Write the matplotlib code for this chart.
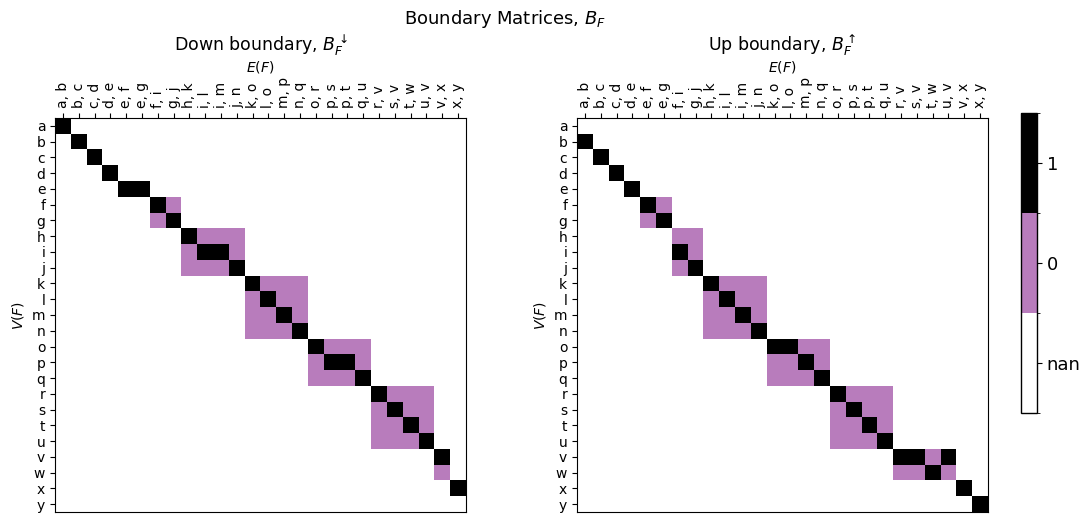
import numpy as np
import matplotlib
matplotlib.use("Agg")
import matplotlib.pyplot as plt
from matplotlib.colors import ListedColormap, BoundaryNorm

# vertices (rows) and edges (columns)
vertices = list("abcdefghijklmnopqrstuvwxy")
edges = ["a, b", "b, c", "c, d", "d, e", "e, f", "e, g", "f, i", "g, j",
         "h, k", "i, l", "i, m", "j, n", "k, o", "l, o", "m, p", "n, q",
         "o, r", "p, s", "p, t", "q, u", "r, v", "s, v", "t, w", "u, v",
         "v, x", "x, y"]

# each row: (first column, run of values); everything else is nan
down_rows = [(0, "1"), (1, "1"), (2, "1"), (3, "1"), (4, "11"), (6, "10"),
             (6, "01"), (8, "1000"), (8, "0110"), (8, "0001"), (12, "1000"),
             (12, "0100"), (12, "0010"), (12, "0001"), (16, "1000"),
             (16, "0110"), (16, "0001"), (20, "1000"), (20, "0100"),
             (20, "0010"), (20, "0001"), (24, "1"), (24, "0"), (25, "1"),
             (0, "")]
up_rows = [(0, ""), (0, "1"), (1, "1"), (2, "1"), (3, "1"), (4, "10"),
           (4, "01"), (6, "00"), (6, "10"), (6, "01"), (8, "1000"),
           (8, "0100"), (8, "0010"), (8, "0001"), (12, "1100"), (12, "0010"),
           (12, "0001"), (16, "1000"), (16, "0100"), (16, "0010"),
           (16, "0001"), (20, "1101"), (20, "0010"), (24, "1"), (25, "1")]

cbar_labels = ["nan", "0", "1"]


def build(rows):
    m = np.full((len(vertices), len(edges)), -1.0)  # -1 stands in for nan
    for i, (start, run) in enumerate(rows):
        for j, ch in enumerate(run):
            m[i, start + j] = float(ch)
    return m


cmap = ListedColormap(["white", "#b87cbc", "black"])
norm = BoundaryNorm([-1.5, -0.5, 0.5, 1.5], cmap.N)

fig = plt.figure(figsize=(10.85, 5.14), dpi=100)
W, H = 1085, 514
ax_l = fig.add_axes([55 / W, 2 / H, 411 / W, 394 / H])
ax_r = fig.add_axes([577 / W, 2 / H, 411 / W, 394 / H])

for ax, rows, title in [(ax_l, down_rows, r"Down boundary, $B_F^{\downarrow}$"),
                        (ax_r, up_rows, r"Up boundary, $B_F^{\uparrow}$")]:
    im = ax.imshow(build(rows), cmap=cmap, norm=norm, aspect="auto",
                   interpolation="nearest")
    ax.set_xticks(range(len(edges)))
    ax.set_xticklabels(edges, rotation=90)
    ax.set_yticks(range(len(vertices)))
    ax.set_yticklabels(vertices)
    ax.xaxis.tick_top()
    ax.xaxis.set_label_position("top")
    ax.set_xlabel("$E(F)$")
    ax.set_ylabel("$V(F)$")
    ax.set_title(title, fontsize=12.5)

cax = fig.add_axes([1021 / W, (H - 413) / H, 16 / W, 300 / H])
cb = fig.colorbar(im, cax=cax, ticks=[-1, 0, 1])
cb.ax.set_yticklabels(cbar_labels, fontsize=13)
cb.outline.set_linewidth(1)

fig.suptitle("Boundary Matrices, $B_F$", fontsize=13, x=505 / W, y=0.985)
fig.savefig("out.png", dpi=100)
